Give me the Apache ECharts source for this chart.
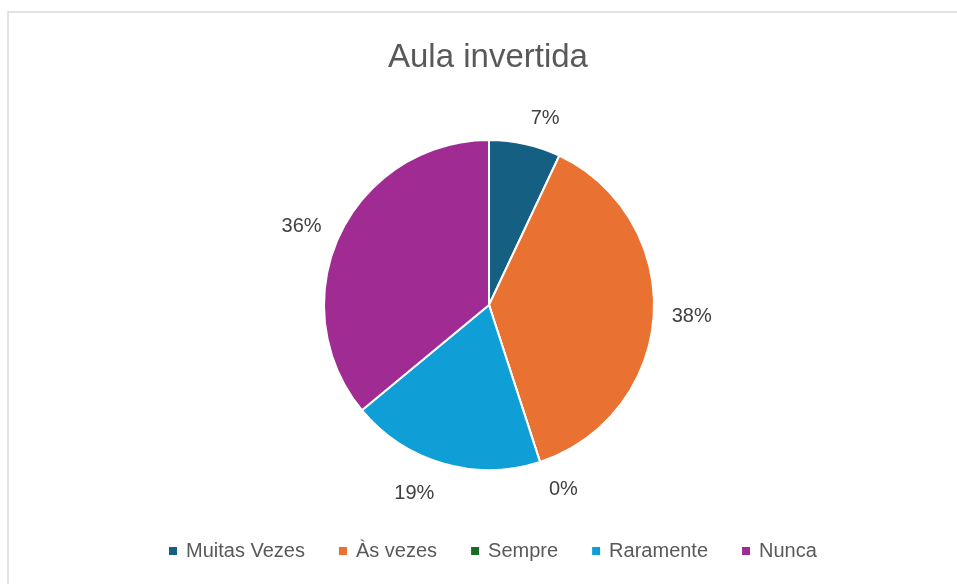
<!DOCTYPE html>
<html><head><meta charset="utf-8">
<script src="https://cdn.jsdelivr.net/npm/echarts@6/dist/echarts.min.js"></script>
<style>html,body{margin:0;padding:0;background:#fff}#c{width:957px;height:584px}</style>
</head><body><div id="c"></div>
<script>
const categories = ["Muitas Vezes", "Às vezes", "Sempre", "Raramente", "Nunca"];
const values = [7, 38, 0, 19, 36];
const colors = ["#156082", "#E97132", "#196B24", "#0F9ED5", "#A02B93"];
const titleText = "Aula invertida";
// label offsets (style only)
const labelLengths = [26, 18, 29, 31, 20];

const chart = echarts.init(document.getElementById('c'), null, {renderer: 'canvas'});
chart.setOption({
  animation: false,
  color: colors,
  graphic: [{
    type: 'rect', silent: true, z: -1,
    shape: {x: 8, y: 12, width: 1000, height: 600},
    style: {fill: '#fff', stroke: '#d9d9d9', lineWidth: 1.5}
  }],
  title: {
    text: titleText, left: 383, top: 36,
    textStyle: {fontFamily: 'Liberation Sans', fontSize: 33, fontWeight: 'normal', color: '#595959'}
  },
  legend: {
    bottom: 18, left: 162,
    itemWidth: 10, itemHeight: 10, itemGap: 32,
    icon: 'rect',
    textStyle: {fontFamily: 'Liberation Sans', fontSize: 20, color: '#595959', padding: [0, 0, 0, 3]},
    data: categories
  },
  series: [{
    type: 'pie',
    center: [489, 305],
    radius: 165,
    startAngle: 90,
    avoidLabelOverlap: false,
    itemStyle: {borderColor: '#fff', borderWidth: 2},
    label: {
      show: true, position: 'outside', distanceToLabelLine: 0,
      formatter: p => p.value + '%',
      fontFamily: 'Liberation Sans', fontSize: 20, color: '#404040'
    },
    labelLine: {show: false, length: 22, length2: 0},
    data: categories.map((n, i) => ({name: n, value: values[i], labelLine: {show: false, length: labelLengths[i], length2: 0}}))
  }]
});
</script></body></html>
